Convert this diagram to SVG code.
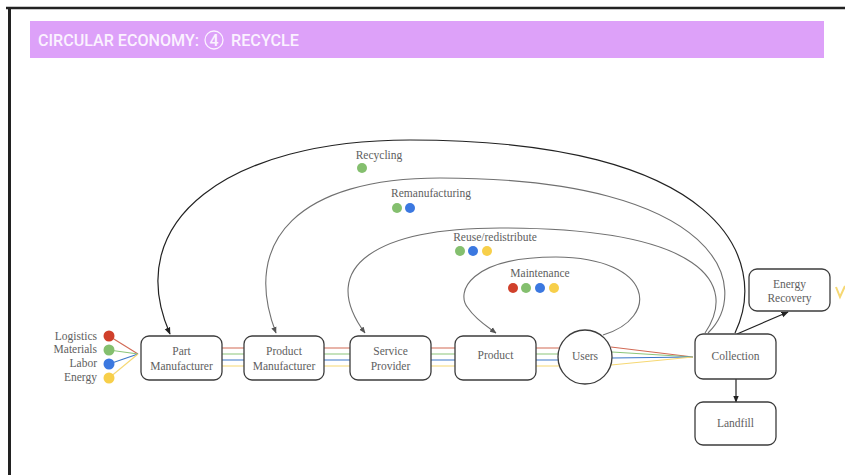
<svg xmlns="http://www.w3.org/2000/svg" width="845" height="475" viewBox="0 0 845 475">
  <style>
    .box { fill: #ffffff; stroke: #3c3c3c; stroke-width: 1.3; }
    .lbl { font-family: "Liberation Serif", "DejaVu Serif", serif; font-size: 11.5px; fill: #606060; text-anchor: middle; }
    .side { font-family: "Liberation Serif", "DejaVu Serif", serif; font-size: 11.5px; fill: #606060; text-anchor: end; }
    .loop { fill: none; stroke: #707070; stroke-width: 1.1; }
    .flow { fill: none; stroke-width: 1.1; }
    .r { stroke: #d26a55; } .g { stroke: #8cc57a; } .b { stroke: #3a76c8; } .y { stroke: #f6d873; }
    .arr { fill: none; stroke: #222; stroke-width: 1.2; marker-end: url(#head); }
    .title { font-family: Roboto, "Liberation Sans", sans-serif; font-size: 16px; font-weight: 500; fill: #fbf2ff; }
  </style>
  <defs>
    <marker id="head" viewBox="0 0 10 10" refX="9" refY="5" markerWidth="6" markerHeight="6" orient="auto">
      <path d="M0,1 L10,5 L0,9 Z" fill="#222"/>
    </marker>
    <marker id="headGray" viewBox="0 0 10 10" refX="9" refY="5" markerWidth="6" markerHeight="6" orient="auto">
      <path d="M0,1 L10,5 L0,9 Z" fill="#555"/>
    </marker>
  </defs>

  <!-- page frame -->
  <rect x="0" y="0" width="845" height="475" fill="#ffffff"/>
  <path d="M6,8 H845" stroke="#222" stroke-width="2.5"/>
  <path d="M9.5,7 V475" stroke="#222" stroke-width="3"/>

  <!-- title bar -->
  <g id="title">
    <rect x="30" y="21" width="794" height="37" fill="#dda1f9"/>
    <text class="title" x="38" y="46" textLength="161" lengthAdjust="spacingAndGlyphs">CIRCULAR ECONOMY:</text>
    <circle cx="214" cy="40" r="9" fill="none" stroke="#fbf2ff" stroke-width="1.3"/>
    <text class="title" x="214" y="45.5" text-anchor="middle" font-size="13">4</text>
    <text class="title" x="231" y="46" textLength="68" lengthAdjust="spacingAndGlyphs">RECYCLE</text>
  </g>

  <!-- connectors -->
  <g id="connectors">
    <!-- inputs converging into part manufacturer -->
    <path class="flow r" d="M109,336 L138,354"/>
    <path class="flow g" d="M109,350 L138,354"/>
    <path class="flow b" d="M109,364 L138,354"/>
    <path class="flow y" d="M109,378 L138,354"/>

    <!-- parallel flows between stages -->
    <g>
      <path class="flow r" d="M222,348 H244 M324,348 H350 M431,348 H455 M536,348 H560"/>
      <path class="flow g" d="M222,354 H244 M324,354 H350 M431,354 H455 M536,354 H559"/>
      <path class="flow b" d="M222,360 H244 M324,360 H350 M431,360 H455 M536,360 H559"/>
      <path class="flow y" d="M222,366 H244 M324,366 H350 M431,366 H455 M536,366 H561"/>
    </g>

    <!-- users fanning into collection -->
    <path class="flow r" d="M611,347 L693,357"/>
    <path class="flow g" d="M612,352 L693,357"/>
    <path class="flow b" d="M612,358 L693,357"/>
    <path class="flow y" d="M611,365 L693,357"/>

    <!-- return loops -->
    <path class="loop" d="M603,335 C660,318 655,258 556,257 C470,257 455,292 468,308 C476,320 488,327 496,333" marker-end="url(#headGray)"/>
    <path class="loop" d="M705,333 C738,285 705,228 500,228 C380,228 315,265 365,333" marker-end="url(#headGray)"/>
    <path class="loop" d="M708,333 C752,290 725,178 440,178 C300,178 240,240 276,333" marker-end="url(#headGray)"/>
    <path d="M735,333 C770,260 722,140 410,140 C230,140 120,220 170,334" fill="none" stroke="#222" stroke-width="1.2" marker-end="url(#head)"/>

    <!-- collection outputs -->
    <path class="arr" d="M737,334 L788,312"/>
    <path class="arr" d="M736,379 V402"/>
  </g>

  <!-- input legend -->
  <g id="inputs">
    <text class="side" x="97" y="340">Logistics</text>
    <text class="side" x="97" y="353">Materials</text>
    <text class="side" x="97" y="367">Labor</text>
    <text class="side" x="97" y="381">Energy</text>
    <circle cx="109" cy="336" r="5.5" fill="#d0402b"/>
    <circle cx="109" cy="350" r="5.5" fill="#84bf6e"/>
    <circle cx="109" cy="364" r="5.5" fill="#3b78e0"/>
    <circle cx="109" cy="378" r="5.5" fill="#f7cf4a"/>
  </g>

  <!-- stage nodes -->
  <g id="part-manufacturer">
    <rect class="box" x="141" y="336" width="81" height="44" rx="8"/>
    <text class="lbl" x="181.5" y="355">Part</text>
    <text class="lbl" x="181.5" y="370">Manufacturer</text>
  </g>
  <g id="product-manufacturer">
    <rect class="box" x="244" y="336" width="80" height="44" rx="8"/>
    <text class="lbl" x="284" y="355">Product</text>
    <text class="lbl" x="284" y="370">Manufacturer</text>
  </g>
  <g id="service-provider">
    <rect class="box" x="350" y="336" width="81" height="44" rx="8"/>
    <text class="lbl" x="390.5" y="355">Service</text>
    <text class="lbl" x="390.5" y="370">Provider</text>
  </g>
  <g id="product">
    <rect class="box" x="455" y="336" width="81" height="44" rx="8"/>
    <text class="lbl" x="495.5" y="359">Product</text>
  </g>
  <g id="users">
    <circle class="box" cx="585" cy="357" r="27"/>
    <text class="lbl" x="585" y="360">Users</text>
  </g>
  <g id="collection">
    <rect class="box" x="695" y="334" width="81" height="45" rx="8"/>
    <text class="lbl" x="735.5" y="360">Collection</text>
  </g>
  <g id="energy-recovery">
    <rect class="box" x="749" y="269" width="81" height="42" rx="8"/>
    <text class="lbl" x="789.5" y="288">Energy</text>
    <text class="lbl" x="789.5" y="302">Recovery</text>
  </g>
  <g id="landfill">
    <rect class="box" x="695" y="402" width="81" height="43" rx="8"/>
    <text class="lbl" x="735.5" y="427">Landfill</text>
  </g>

  <!-- loop labels -->
  <g id="recycling">
    <text class="lbl" x="379" y="159">Recycling</text>
    <circle cx="362" cy="168" r="5" fill="#84bf6e"/>
  </g>
  <g id="remanufacturing">
    <text class="lbl" x="431" y="197">Remanufacturing</text>
    <circle cx="397" cy="208" r="5" fill="#84bf6e"/>
    <circle cx="410" cy="208" r="5" fill="#3b78e0"/>
  </g>
  <g id="reuse">
    <text class="lbl" x="495" y="241">Reuse/redistribute</text>
    <circle cx="460" cy="251" r="5" fill="#84bf6e"/>
    <circle cx="473" cy="251" r="5" fill="#3b78e0"/>
    <circle cx="487" cy="251" r="5" fill="#f7cf4a"/>
  </g>
  <g id="maintenance">
    <text class="lbl" x="540" y="277">Maintenance</text>
    <circle cx="513" cy="288" r="5" fill="#d0402b"/>
    <circle cx="526" cy="288" r="5" fill="#84bf6e"/>
    <circle cx="540" cy="288" r="5" fill="#3b78e0"/>
    <circle cx="554" cy="288" r="5" fill="#f7cf4a"/>
  </g>

  <!-- yellow mark at the right edge -->
  <path d="M836,287 L840,297 L845,286" fill="none" stroke="#f6d873" stroke-width="2"/>
</svg>
